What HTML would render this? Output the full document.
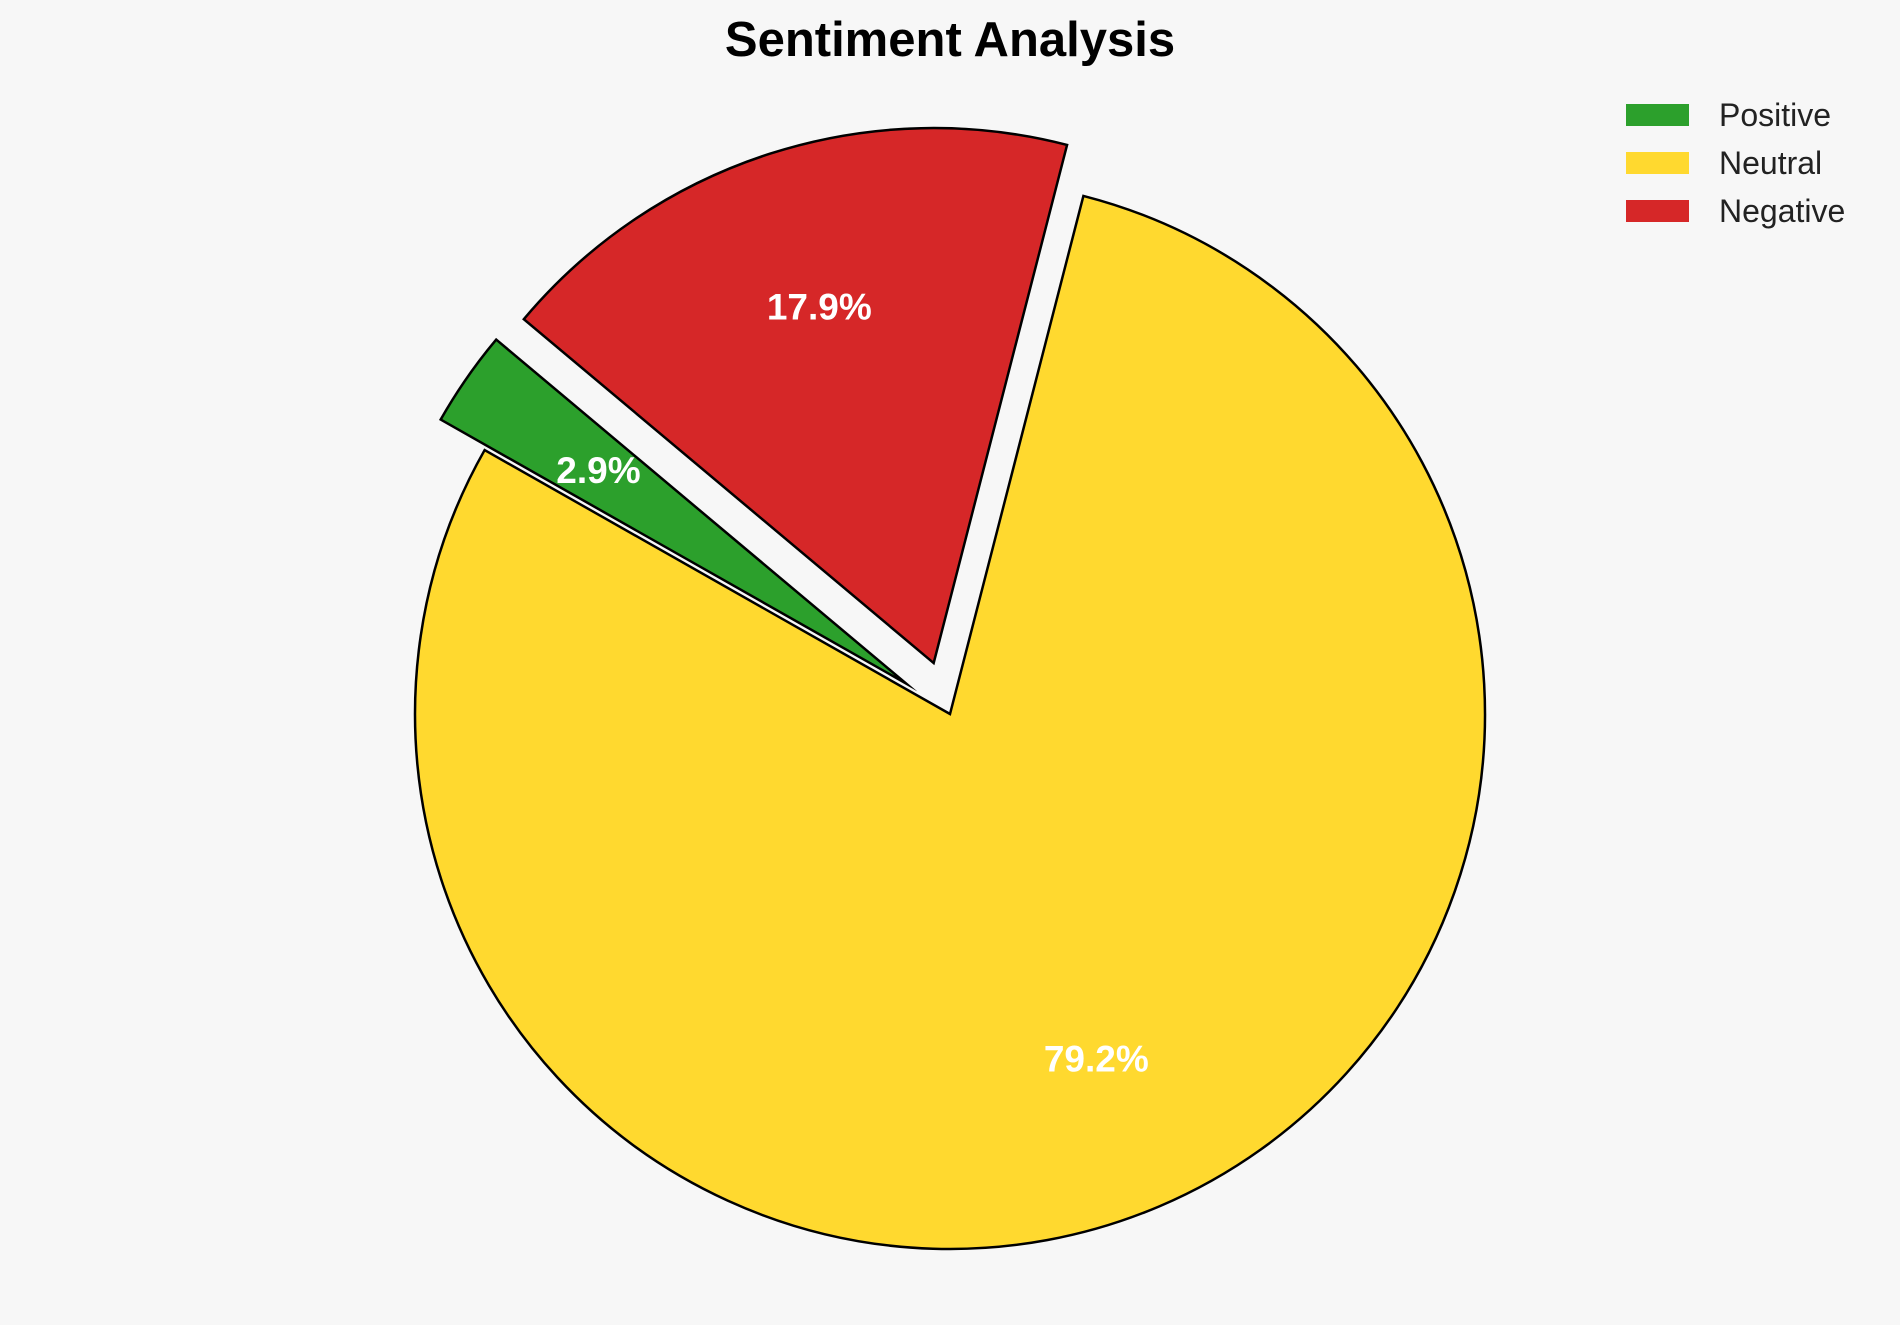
<!DOCTYPE html>
<html><head><meta charset="utf-8"><style>
html,body{margin:0;padding:0;background:#f7f7f7;}
svg{display:block;font-family:"Liberation Sans",Arial,sans-serif;}
</style></head><body>
<svg id="chart" width="1900" height="1325" viewBox="0 0 1900 1325">
<rect width="1900" height="1325" fill="#f7f7f7"/>
<text x="950" y="56" text-anchor="middle" font-size="49" font-weight="bold" fill="#000">Sentiment Analysis</text>
<g id="slices"></g>
<g id="labels"></g>
<g id="legend"></g>
</svg>
<script>
const categories = ["Positive", "Neutral", "Negative"];
const values = [2.9, 79.2, 17.9];
const explodeArr = [0.1, 0, 0.1];
const colors = ["#2ca02c", "#ffd92f", "#d62728"];
const NS = "http://www.w3.org/2000/svg";
const cx = 950, cy = 714, R = 535, startAngle = 140, pctDist = 0.7;
const total = values.reduce((a,b)=>a+b,0);
const gS = document.getElementById('slices'), gL = document.getElementById('labels'), gLeg = document.getElementById('legend');
let a0 = startAngle;
values.forEach((v,i)=>{
  const sweep = v/total*360, a1 = a0+sweep, mid = (a0+a1)/2*Math.PI/180;
  const ox = cx + explodeArr[i]*R*Math.cos(mid), oy = cy - explodeArr[i]*R*Math.sin(mid);
  const r0 = a0*Math.PI/180, r1 = a1*Math.PI/180;
  const x0 = ox+R*Math.cos(r0), y0 = oy-R*Math.sin(r0), x1 = ox+R*Math.cos(r1), y1 = oy-R*Math.sin(r1);
  const p = document.createElementNS(NS,'path');
  p.setAttribute('d',`M${ox},${oy} L${x0},${y0} A${R},${R} 0 ${sweep>180?1:0} 0 ${x1},${y1} Z`);
  p.setAttribute('fill',colors[i]); p.setAttribute('stroke','#000'); p.setAttribute('stroke-width','2.5');
  p.setAttribute('stroke-miterlimit','20');
  
  
  gS.appendChild(p);
  const t = document.createElementNS(NS,'text');
  t.setAttribute('x', ox+pctDist*R*Math.cos(mid)); t.setAttribute('y', oy-pctDist*R*Math.sin(mid)+13);
  t.setAttribute('text-anchor','middle'); t.setAttribute('font-size','37'); t.setAttribute('font-weight','bold'); t.setAttribute('fill','#fff');
  t.textContent = v.toFixed(1)+'%';
  
  
  gL.appendChild(t);
  const y = 115 + i*48;
  const r = document.createElementNS(NS,'rect');
  r.setAttribute('x',1626); r.setAttribute('y',y-11); r.setAttribute('width',63); r.setAttribute('height',22); r.setAttribute('fill',colors[i]);
  
  
  gLeg.appendChild(r);
  const lt = document.createElementNS(NS,'text');
  lt.setAttribute('x',1719); lt.setAttribute('y',y+11); lt.setAttribute('font-size','32'); lt.setAttribute('fill','#222');
  lt.textContent = categories[i];
  
  
  gLeg.appendChild(lt);
  a0 = a1;
});
</script>
</body></html>
